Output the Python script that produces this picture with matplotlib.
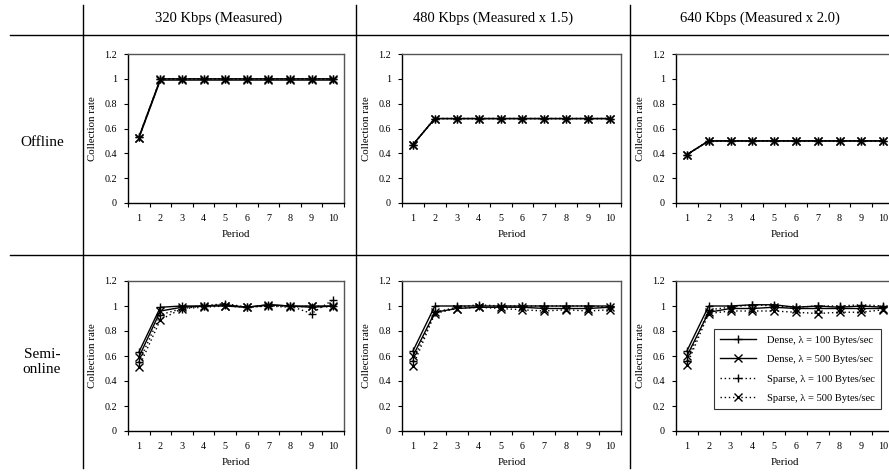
import matplotlib
matplotlib.use("Agg")
import matplotlib.pyplot as plt
from matplotlib.lines import Line2D
import numpy as np

plt.rcParams['font.family'] = ['Liberation Serif', 'DejaVu Serif']

periods = [1, 2, 3, 4, 5, 6, 7, 8, 9, 10]
columns = ["320 Kbps (Measured)", "480 Kbps (Measured x 1.5)", "640 Kbps (Measured x 2.0)"]
rows = ["Offline", "Semi-\nonline"]
series_labels = ["Dense, \u03bb = 100 Bytes/sec", "Dense, \u03bb = 500 Bytes/sec",
                 "Sparse, \u03bb = 100 Bytes/sec", "Sparse, \u03bb = 500 Bytes/sec"]
ytick_vals = [0, 0.2, 0.4, 0.6, 0.8, 1.0, 1.2]
ytick_labels = ["0", "0.2", "0.4", "0.6", "0.8", "1", "1.2"]

# Offline
off_320_dense100 = [0.53, 1.00, 1.00, 1.00, 1.00, 1.00, 1.00, 1.00, 1.00, 1.00]
off_320_dense500 = [0.52, 0.99, 0.99, 0.99, 0.99, 0.99, 0.99, 0.99, 0.99, 0.99]
off_320_sparse100 = [0.53, 1.00, 1.00, 1.00, 1.00, 1.00, 1.00, 1.00, 1.00, 1.00]
off_320_sparse500 = [0.52, 1.00, 1.00, 1.00, 1.00, 1.00, 1.00, 1.00, 1.00, 1.00]

off_480_dense100 = [0.47, 0.68, 0.68, 0.68, 0.68, 0.68, 0.68, 0.68, 0.68, 0.68]
off_480_dense500 = [0.47, 0.68, 0.68, 0.68, 0.68, 0.68, 0.68, 0.68, 0.68, 0.68]
off_480_sparse100 = [0.47, 0.68, 0.68, 0.68, 0.68, 0.68, 0.68, 0.68, 0.68, 0.68]
off_480_sparse500 = [0.47, 0.68, 0.68, 0.68, 0.68, 0.68, 0.68, 0.68, 0.68, 0.68]

off_640_dense100 = [0.39, 0.50, 0.50, 0.50, 0.50, 0.50, 0.50, 0.50, 0.50, 0.50]
off_640_dense500 = [0.39, 0.50, 0.50, 0.50, 0.50, 0.50, 0.50, 0.50, 0.50, 0.50]
off_640_sparse100 = [0.39, 0.50, 0.50, 0.50, 0.50, 0.50, 0.50, 0.50, 0.50, 0.50]
off_640_sparse500 = [0.39, 0.50, 0.50, 0.50, 0.50, 0.50, 0.50, 0.50, 0.50, 0.50]

# Semi-online
semi_320_dense100 = [0.63, 0.99, 1.00, 1.00, 1.01, 0.99, 1.01, 1.00, 0.99, 1.00]
semi_320_dense500 = [0.59, 0.96, 0.99, 1.00, 1.00, 0.99, 1.01, 1.00, 1.00, 1.00]
semi_320_sparse100 = [0.55, 0.93, 0.98, 1.00, 1.02, 0.99, 1.00, 1.00, 0.94, 1.05]
semi_320_sparse500 = [0.51, 0.89, 0.98, 0.99, 1.00, 0.99, 1.00, 0.99, 1.00, 0.99]

semi_480_dense100 = [0.64, 1.00, 1.00, 1.00, 1.00, 1.00, 1.00, 1.00, 1.00, 1.00]
semi_480_dense500 = [0.60, 0.95, 0.98, 0.99, 0.99, 0.99, 0.98, 0.98, 0.98, 0.99]
semi_480_sparse100 = [0.56, 0.95, 0.99, 1.01, 1.00, 1.00, 1.00, 1.00, 1.00, 0.99]
semi_480_sparse500 = [0.52, 0.94, 0.98, 0.99, 0.98, 0.97, 0.96, 0.97, 0.96, 0.97]

semi_640_dense100 = [0.64, 1.00, 1.00, 1.01, 1.01, 0.99, 1.00, 0.99, 1.00, 0.99]
semi_640_dense500 = [0.60, 0.95, 0.98, 0.98, 0.99, 0.98, 0.98, 0.98, 0.98, 0.98]
semi_640_sparse100 = [0.56, 0.97, 0.99, 1.01, 1.00, 0.99, 1.00, 1.00, 1.01, 1.00]
semi_640_sparse500 = [0.53, 0.94, 0.96, 0.96, 0.96, 0.95, 0.94, 0.95, 0.95, 0.97]

data = [
    [[off_320_dense100, off_320_dense500, off_320_sparse100, off_320_sparse500],
     [off_480_dense100, off_480_dense500, off_480_sparse100, off_480_sparse500],
     [off_640_dense100, off_640_dense500, off_640_sparse100, off_640_sparse500]],
    [[semi_320_dense100, semi_320_dense500, semi_320_sparse100, semi_320_sparse500],
     [semi_480_dense100, semi_480_dense500, semi_480_sparse100, semi_480_sparse500],
     [semi_640_dense100, semi_640_dense500, semi_640_sparse100, semi_640_sparse500]],
]

W, H = 889, 475
fig = plt.figure(figsize=(W / 100, H / 100), dpi=100)

def rect(l, t, r, b):
    return [l / W, 1 - b / H, (r - l) / W, (b - t) / H]

col_lr = [(128, 344), (402, 621), (676, 894)]
row_tb = [(54, 203), (281, 431)]

styles = [
    dict(linestyle='-', marker='+'),
    dict(linestyle='-', marker='x'),
    dict(linestyle=(0, (1, 2)), marker='+'),
    dict(linestyle=(0, (1, 2)), marker='x'),
]

for r in range(2):
    for c in range(3):
        l, rr = col_lr[c]
        t, b = row_tb[r]
        ax = fig.add_axes(rect(l, t, rr, b))
        for s in range(4):
            ax.plot(periods, data[r][c][s], color='black', linewidth=1.0,
                    markersize=6, markeredgewidth=1.0, label=series_labels[s],
                    **styles[s])
        ax.set_xlim(0.5, 10.5)
        ax.set_ylim(0, 1.2)
        ax.set_yticks(ytick_vals)
        ax.set_yticklabels(ytick_labels)
        ax.set_xticks(periods)
        ax.set_xticklabels([str(p) for p in periods])
        ax.set_xticks(np.arange(0.5, 11, 1.0), minor=True)
        ax.tick_params(axis='x', which='major', length=0, labelsize=7.3, pad=8)
        ax.tick_params(axis='x', which='minor', length=3, direction='out', width=0.8)
        ax.tick_params(axis='y', length=3, direction='out', labelsize=7.3, width=0.8, pad=5)
        ax.set_xlabel("Period", fontsize=7.8, labelpad=5)
        ax.set_ylabel("Collection rate", fontsize=7.8, labelpad=5)
        for side in ['left', 'bottom']:
            ax.spines[side].set_color('black')
            ax.spines[side].set_linewidth(1.0)
        for side in ['top', 'right']:
            ax.spines[side].set_color('#555555')
            ax.spines[side].set_linewidth(1.0)
        if r == 1 and c == 2:
            handles = [Line2D([0], [0], color='black', linewidth=1.0, markersize=6,
                              markeredgewidth=1.0, **styles[s]) for s in range(4)]
            leg = ax.legend(handles, series_labels, loc='upper left',
                            bbox_to_anchor=(714 / W, 1 - 329 / H),
                            bbox_transform=fig.transFigure, borderaxespad=0,
                            fontsize=7.6, frameon=True, fancybox=False,
                            edgecolor='black', handlelength=3.4,
                            borderpad=0.6, labelspacing=0.95, handletextpad=1.0)
            leg.get_frame().set_linewidth(0.8)

# table-like layout lines
line_kw = dict(color='black', linewidth=1.0, transform=fig.transFigure)
fig.add_artist(Line2D([10 / W, 1.0], [1 - 35 / H, 1 - 35 / H], **line_kw))
fig.add_artist(Line2D([10 / W, 1.0], [1 - 255 / H, 1 - 255 / H], **line_kw))
for x in [83, 356, 630]:
    fig.add_artist(Line2D([x / W, x / W], [1 - 5 / H, 1 - 468 / H], **line_kw))

col_centers = [219, 493, 760]
for cx, txt in zip(col_centers, columns):
    fig.text(cx / W, 1 - 18 / H, txt, ha='center', va='center', fontsize=10.5)
row_centers = [143, 362]
for cy, txt in zip(row_centers, rows):
    fig.text(42 / W, 1 - cy / H, txt, ha='center', va='center', fontsize=11,
             multialignment='center', linespacing=1.15)

fig.savefig("out.png", dpi=100)
